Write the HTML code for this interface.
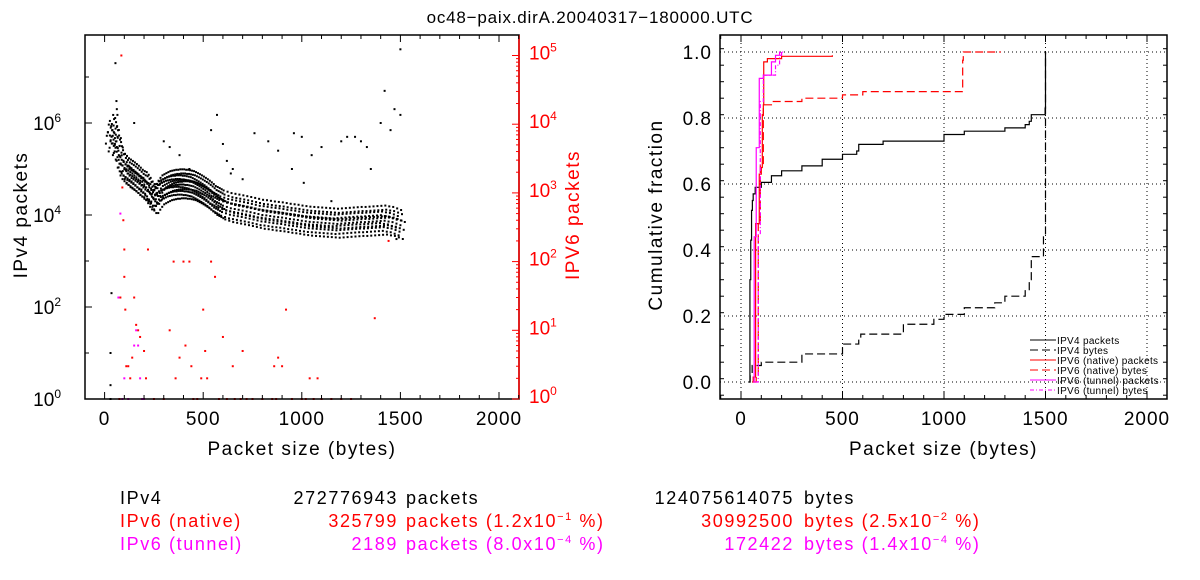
<!DOCTYPE html>
<html><head><meta charset="utf-8"><style>
body{margin:0;background:#fff;width:1200px;height:580px;overflow:hidden}
svg{display:block}
text{font-family:"Liberation Sans",sans-serif}
</style></head><body>
<svg id="c" width="1200" height="580" viewBox="0 0 1200 580" xmlns="http://www.w3.org/2000/svg">
<text x="590" y="23" font-size="17" letter-spacing="0.8" text-anchor="middle">oc48−paix.dirA.20040317−180000.UTC</text>
<g font-size="18" letter-spacing="1.6">
<text x="120" y="504">IPv4</text>
<text x="398" y="504" text-anchor="end">272776943</text>
<text x="406" y="504">packets</text>
<text x="794" y="504" text-anchor="end">124075614075</text>
<text x="804" y="504">bytes</text>
<g fill="#ff0000">
<text x="120" y="527">IPv6 (native)</text>
<text x="398" y="527" text-anchor="end">325799</text>
<text x="406" y="527">packets (1.2x10<tspan dy="-7" font-size="11">−1</tspan><tspan dy="7"> %)</tspan></text>
<text x="794" y="527" text-anchor="end">30992500</text>
<text x="804" y="527">bytes (2.5x10<tspan dy="-7" font-size="11">−2</tspan><tspan dy="7"> %)</tspan></text>
</g>
<g fill="#ff00ff">
<text x="120" y="550">IPv6 (tunnel)</text>
<text x="398" y="550" text-anchor="end">2189</text>
<text x="406" y="550">packets (8.0x10<tspan dy="-7" font-size="11">−4</tspan><tspan dy="7"> %)</tspan></text>
<text x="794" y="550" text-anchor="end">172422</text>
<text x="804" y="550">bytes (1.4x10<tspan dy="-7" font-size="11">−4</tspan><tspan dy="7"> %)</tspan></text>
</g>
</g>
</svg>
<script>
// ---- Left scatter data ----
const bandSizes=[30,40,50,60,70,80,90,100,110,120,130,140,150,160,170,180,190,200,210,220,230,240,250,260,270,280,290,300,310,320,330,340,350,360,370,380,390,400,410,420,430,440,450,460,470,480,490,500,510,520,530,540,550,560,570,580,590,600,620,640,660,680,700,720,740,760,780,800,820,840,860,880,900,920,940,960,980,1000,1020,1040,1060,1080,1100,1120,1140,1160,1180,1200,1220,1240,1260,1280,1300,1320,1340,1360,1380,1400,1420,1440,1460,1480,1500];
const bandCounts=[400000,700000,600000,400000,250000,180000,120000,100000,90000,80000,75000,70000,65000,60000,55000,50000,45000,42000,40000,35000,30000,25000,22000,22000,26000,30000,34000,36000,38000,40000,42000,43000,44000,45000,45000,46000,46000,46000,45000,45000,44000,43000,42000,40000,38000,36000,34000,32000,30000,28000,26000,24000,22000,20000,19000,18000,17000,16000,15000,14000,13500,13000,12500,12000,11500,11000,10500,10000,9800,9500,9200,9000,8800,8500,8200,8000,7800,7500,7300,7100,7000,6900,6800,6700,6600,6500,6400,6500,6600,6700,6800,6900,7000,7000,7100,7200,7300,7400,7500,7200,7000,6500,6000];
const outSizes=[30,30,30,35,55,60,62,65,150,300,330,380,430,540,570,600,620,640,650,700,760,830,880,950,960,1000,1010,1050,1100,1150,1200,1230,1270,1300,1330,1350,1400,1420,1450,1470,1480,1500,1500];
const outCounts=[1,2,10,200,20000000,3000000,2000000,1500000,1000000,400000,300000,200000,100000,700000,1500000,350000,150000,80000,100000,60000,600000,400000,250000,100000,600000,500000,50000,200000,300000,20000,400000,500000,500000,400000,300000,100000,1000000,5000000,700000,2000000,3000,1500000,40000000];
const v6nSizes=[75,80,85,90,95,100,100,105,110,120,130,140,150,160,170,180,200,210,220,250,300,330,350,360,380,400,410,430,440,450,470,490,500,510,520,540,560,580,600,620,650,660,690,700,720,750,800,850,860,870,880,900,920,950,1000,1020,1040,1060,1080,1100,1150,1200,1250,1370,1440];
const v6nCounts=[1,30,100000,1200,400,150,60,20,3,3,2,4,30,12,10,8,5,2,150,1,1,10,100,2,4,100,6,100,3,1,1,2,20,5,2,100,60,1,8,1,3,1,1,5,1,1,1,1,3,1,4,3,20,1,1,1,2,1,2,1,1,1,1,15,200];
const v6tSizes=[70,80,90,100,120,150,160,170,180,190,200];
const v6tCounts=[30,500,1,2,1,6,10,6,2,1,1];
// ---- CDF data ----
const v4pX=[40,44,48,52,56,60,70,100,150,200,300,400,500,570,580,700,1000,1100,1300,1400,1420,1430,1498,1500];
const v4pY=[0,0.31,0.43,0.52,0.55,0.57,0.59,0.605,0.625,0.64,0.655,0.675,0.69,0.70,0.72,0.73,0.75,0.76,0.77,0.78,0.79,0.81,0.83,1.0];
const v4bX=[40,45,55,100,300,500,580,590,800,950,1000,1100,1250,1300,1400,1420,1430,1490,1500];
const v4bY=[0,0.02,0.05,0.06,0.085,0.115,0.13,0.145,0.175,0.19,0.205,0.225,0.24,0.26,0.28,0.31,0.38,0.44,1.0];
const v6npX=[55,60,70,72,80,90,100,105,110,112,130,200,450];
const v6npY=[0,0.015,0.015,0.48,0.48,0.63,0.65,0.81,0.84,0.97,0.98,0.987,0.99];
const v6nbX=[60,75,85,95,110,150,300,500,600,1090,1092,1095,1280];
const v6nbY=[0,0.02,0.48,0.66,0.84,0.85,0.86,0.87,0.88,0.885,0.975,1.0,1.0];
const v6tpX=[60,65,75,90,110,150,170,200];
const v6tpY=[0,0.44,0.71,0.92,0.93,0.97,0.99,1.0];
const v6tbX=[70,85,95,110,160,170,190,210];
const v6tbY=[0,0.45,0.85,0.93,0.93,0.96,1.0,1.0];

const NS='http://www.w3.org/2000/svg';
const svg=document.getElementById('c');
function mk(tag,attrs,parent){const e=document.createElementNS(NS,tag);for(const k in attrs)e.setAttribute(k,attrs[k]);(parent||svg).appendChild(e);return e;}

const L={x0:85,x1:519,y0:35,y1:399};
const lx=v=>104.6+v*(499-104.6)/2000;
const ly=c=>399-Math.log10(c)*46;
const ry=c=>399-Math.log10(c)*68.7;
const gl=mk('g',{});


function dot(x,y,col,g){const r=mk('rect',{x:x-1,y:y-1,width:2,height:2,fill:col},g);}
// fixed cluster shape used to render each band sample as a cloud (styling only)
const offs=[[0,0],[-3.7,0.12],[3.3,-0.1],[-1.8,-0.22],[1.6,0.24],[-4.6,-0.05],[4.4,0.07],[0.7,0.33],[2.4,-0.3],[-2.6,0.2],[-0.9,-0.14],[1.1,0.1]];
bandSizes.forEach((s,i)=>{offs.forEach(o=>dot(lx(s)+o[0],ly(bandCounts[i]*Math.pow(10,o[1])),'#000',gl));});
outSizes.forEach((s,i)=>dot(lx(s),ly(outCounts[i]),'#000',gl));
v6nSizes.forEach((s,i)=>dot(lx(s),ry(v6nCounts[i]),'#ff0000',gl));
v6tSizes.forEach((s,i)=>dot(lx(s),ry(v6tCounts[i]),'#ff00ff',gl));
mk('rect',{x:L.x0,y:L.y0,width:L.x1-L.x0,height:L.y1-L.y0,fill:'none',stroke:'#000','stroke-width':1.5},gl);
mk('line',{x1:L.x1,y1:L.y0,x2:L.x1,y2:L.y1,stroke:'#ff0000','stroke-width':1.5},gl);
for(let v=-100;v<=2100;v+=100){const x=lx(v);if(x<L.x0||x>L.x1)continue;const t=v%500==0?7:4;
 mk('line',{x1:x,y1:L.y1,x2:x,y2:L.y1-t,stroke:'#000'},gl);mk('line',{x1:x,y1:L.y0,x2:x,y2:L.y0+t,stroke:'#000'},gl);}
const xt=[0,500,1000,1500,2000];
xt.forEach(v=>{const t=mk('text',{x:lx(v),y:425,'font-size':19,'letter-spacing':1,'text-anchor':'middle'},gl);t.textContent=v;});
const lt=mk('text',{x:(L.x0+L.x1)/2,y:455,'font-size':19,'letter-spacing':1.5,'text-anchor':'middle'},gl);lt.textContent='Packet size (bytes)';

[0,2,4,6].forEach(e=>{const y=ly(Math.pow(10,e));mk('line',{x1:L.x0,y1:y,x2:L.x0+7,y2:y,stroke:'#000'},gl);
 const t=mk('text',{x:L.x0-24,y:y+7,'font-size':19,'text-anchor':'end'},gl);t.textContent='10';const s=mk('tspan',{dy:-8,'font-size':12},t);s.textContent=e;
 });
[1,3,5,7].forEach(e=>{const y=ly(Math.pow(10,e));mk('line',{x1:L.x0,y1:y,x2:L.x0+4,y2:y,stroke:'#000'},gl);});
for(let e=0;e<=5;e++){const y=ry(Math.pow(10,e));mk('line',{x1:L.x1,y1:y,x2:L.x1-7,y2:y,stroke:'#ff0000'},gl);
 for(let m=2;m<10;m++){const yy=ry(m*Math.pow(10,e));if(yy>L.y0)mk('line',{x1:L.x1,y1:yy,x2:L.x1-3,y2:yy,stroke:'#ff0000'},gl);}
 const t=mk('text',{x:L.x1+10,y:y+4,'font-size':19,fill:'#ff0000'},gl);t.textContent='10';const s=mk('tspan',{dy:-8,'font-size':12},t);s.textContent=e;
 }
let t1=mk('text',{transform:'translate(27,215) rotate(-90)','font-size':19,'letter-spacing':1.5,'text-anchor':'middle'},gl);t1.textContent='IPv4 packets';

let t2=mk('text',{transform:'translate(579,215) rotate(-90)','font-size':19,'letter-spacing':1.5,'text-anchor':'middle',fill:'#ff0000'},gl);t2.textContent='IPV6 packets';


const R={x0:720,x1:1167,y0:35,y1:399};
const cx=v=>741+v*(1147-741)/2000;
const cy=f=>382-f*330;
const gr=mk('g',{});


[0,500,1000,1500,2000].forEach(v=>mk('line',{x1:cx(v),y1:R.y0,x2:cx(v),y2:R.y1,stroke:'#000','stroke-dasharray':'1,3'},gr));
[0,0.2,0.4,0.6,0.8,1.0].forEach(f=>mk('line',{x1:R.x0,y1:cy(f),x2:R.x1,y2:cy(f),stroke:'#000','stroke-dasharray':'1,3'},gr));
mk('rect',{x:R.x0,y:R.y0,width:R.x1-R.x0,height:R.y1-R.y0,fill:'none',stroke:'#000','stroke-width':1.5},gr);
for(let v=-100;v<=2100;v+=100){const x=cx(v);if(x<R.x0||x>R.x1)continue;const t=v%500==0?7:4;
 mk('line',{x1:x,y1:R.y1,x2:x,y2:R.y1-t,stroke:'#000'},gr);mk('line',{x1:x,y1:R.y0,x2:x,y2:R.y0+t,stroke:'#000'},gr);}
xt.forEach(v=>{const t=mk('text',{x:cx(v),y:425,'font-size':19,'letter-spacing':1,'text-anchor':'middle'},gr);t.textContent=v;});
for(let f=-0.04;f<=1.06;f+=0.05){const y=cy(f);if(y<R.y0||y>R.y1)continue;const major=Math.abs(f*5-Math.round(f*5))<0.01;
 mk('line',{x1:R.x0,y1:y,x2:R.x0+(major?7:4),y2:y,stroke:'#000'},gr);mk('line',{x1:R.x1,y1:y,x2:R.x1-(major?7:4),y2:y,stroke:'#000'},gr);}
[0,0.2,0.4,0.6,0.8,1.0].forEach(f=>{const t=mk('text',{x:R.x0-8,y:cy(f)+7,'font-size':19,'letter-spacing':1,'text-anchor':'end'},gr);t.textContent=f.toFixed(1);});
let t3=mk('text',{x:(R.x0+R.x1)/2,y:455,'font-size':19,'letter-spacing':1.5,'text-anchor':'middle'},gr);t3.textContent='Packet size (bytes)';

let t4=mk('text',{transform:'translate(662,215) rotate(-90)','font-size':19,'letter-spacing':1.5,'text-anchor':'middle'},gr);t4.textContent='Cumulative fraction';

function step(xs,ys,col,dash,name){let d='M'+cx(xs[0])+','+cy(ys[0]);for(let i=1;i<xs.length;i++){d+=' L'+cx(xs[i])+','+cy(ys[i-1])+' L'+cx(xs[i])+','+cy(ys[i]);}
 const p=mk('path',{d:d,fill:'none',stroke:col,'stroke-width':1.2,'stroke-dasharray':dash},gr);}
step(v4pX,v4pY,'#000','none','ipv4-packets-line');
step(v4bX,v4bY,'#000','8,4','ipv4-bytes-line');
step(v6npX,v6npY,'#ff0000','none','ipv6-native-packets-line');
step(v6nbX,v6nbY,'#ff0000','8,4','ipv6-native-bytes-line');
step(v6tpX,v6tpY,'#ff00ff','none','ipv6-tunnel-packets-line');
step(v6tbX,v6tbY,'#ff00ff','4,2,1,2','ipv6-tunnel-bytes-line');
const leg=[['IPV4 packets','#000','none'],['IPV4 bytes','#000','8,4'],['IPV6 (native) packets','#ff0000','none'],['IPV6 (native) bytes','#ff0000','8,4'],['IPV6 (tunnel) packets','#ff00ff','none'],['IPV6 (tunnel) bytes','#ff00ff','4,2,1,2']];
leg.forEach((l,i)=>{const y=340+i*10;const g=mk('g',{},gr);
 mk('line',{x1:1030,y1:y,x2:1056,y2:y,stroke:l[1],'stroke-dasharray':l[2]},g);const t=mk('text',{x:1057,y:y+4,'font-size':10,'letter-spacing':0.3},g);t.textContent=l[0];});
</script>
</body></html>
